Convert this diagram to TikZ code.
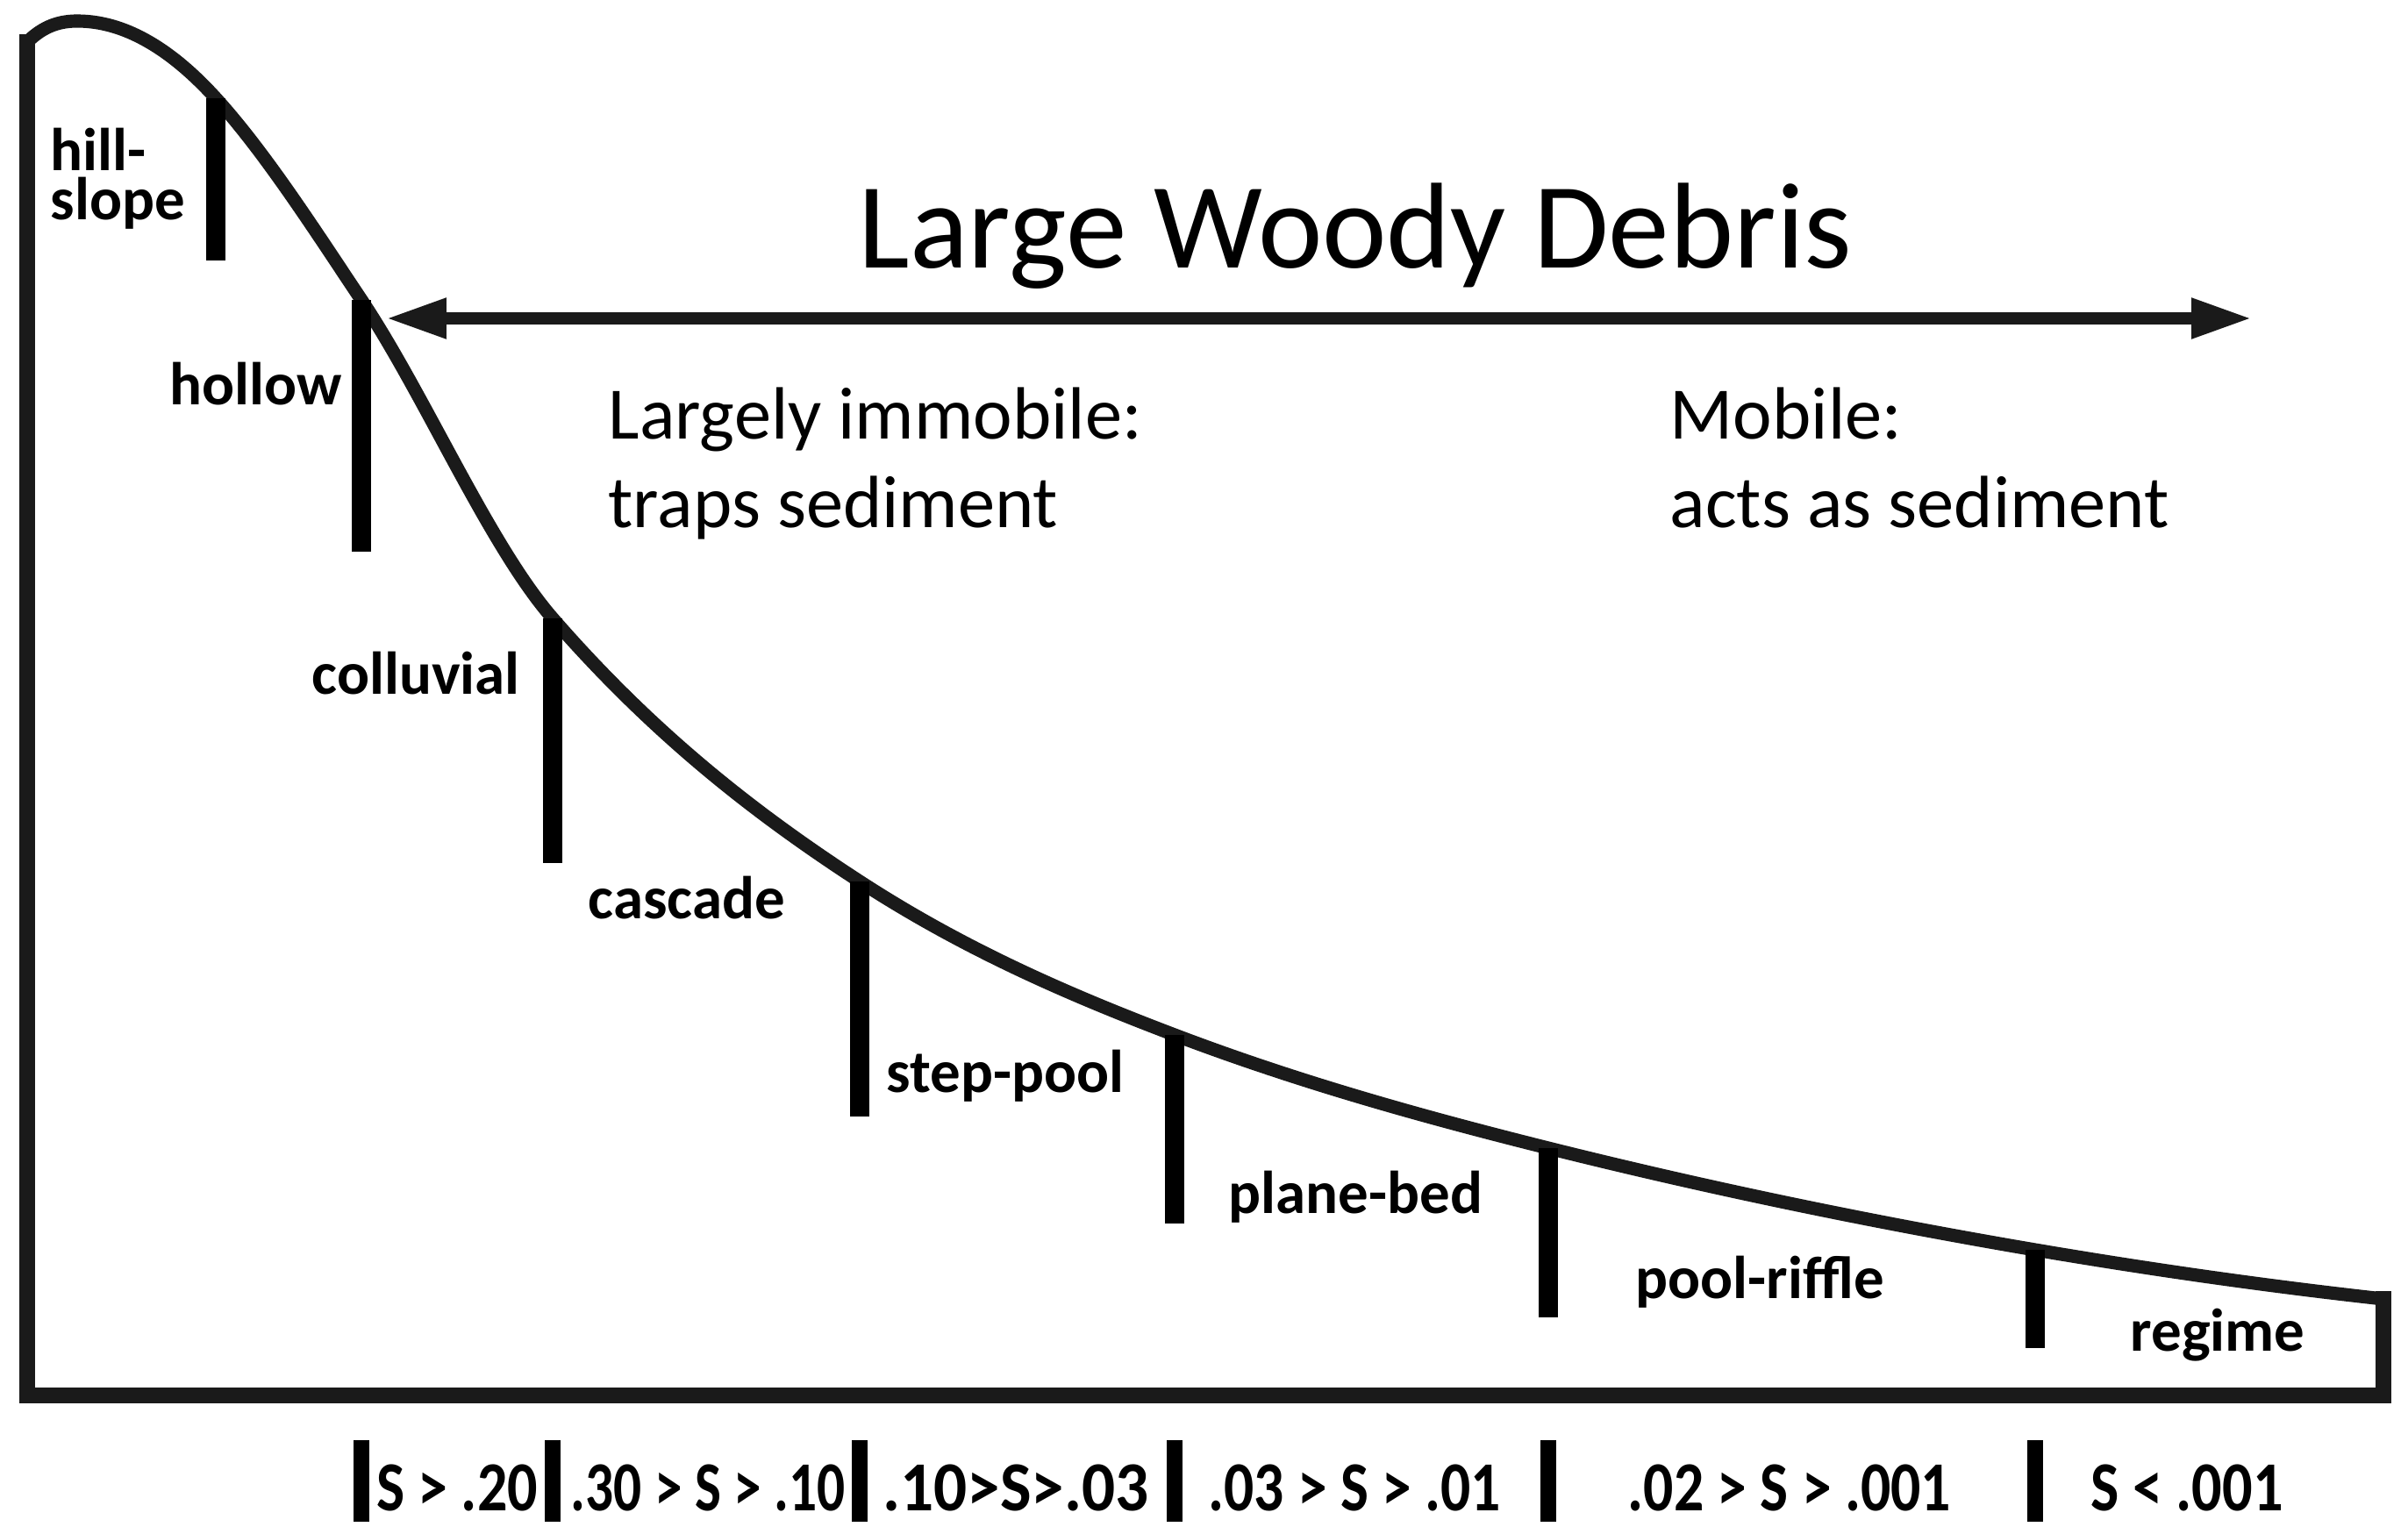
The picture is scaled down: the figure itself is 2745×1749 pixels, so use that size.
\documentclass[tikz,border=0pt]{standalone}
\usepackage{fontspec}
\usepackage{graphicx}
\setmainfont{Carlito}
\usetikzlibrary{arrows.meta}
\newcommand{\slopelab}[2]{\resizebox{#1}{\height}{#2}}
\definecolor{ink}{HTML}{1A1A1A}
\tikzset{
  frame/.style={draw=ink, line width=5pt, line join=miter, line cap=rect},
  curveline/.style={draw=ink, line width=4.3pt, line join=round},
  divider/.style={draw=black, line width=6.5pt},
  lowdivider/.style={draw=black, line width=5pt},
  zonelab/.style={anchor=base west, inner sep=0pt, font=\fontsize{19.6}{16}\selectfont\bfseries},
  slopetxt/.style={anchor=base, inner sep=0pt, font=\fontsize{22.8}{26}\selectfont\bfseries},
  roletxt/.style={anchor=base west, inner sep=0pt, align=left, font=\fontsize{24}{28.6}\selectfont},
  bigarrow/.style={draw=ink, line width=4pt,
    {Triangle[length=19.6pt,width=12.2pt]}-{Triangle[length=19.6pt,width=12.2pt]}}
}
\begin{document}
\begin{tikzpicture}[x=0.01cm, y=-0.01cm]
\useasboundingbox (0,0) rectangle (2745,1749);
\fill[white] (0,0) rectangle (2745,1749);

% curve points at dividers
\coordinate (wl) at (31,48);
\coordinate (pk) at (88,24);
\coordinate (t1) at (246,112);
\coordinate (t2) at (412,342);
\coordinate (t3) at (630,705);
\coordinate (t4) at (980,1005);
\coordinate (t5) at (1339,1180);
\coordinate (t6) at (1765,1309);
\coordinate (t7) at (2320,1425);
\coordinate (wr) at (2717,1481);

% frame
\draw[frame] (wl) -- (31,1591) -- (2717,1591) -- (wr);

% profile curve
\draw[curveline] (wl)
  .. controls (50,29) and (69,24) .. (pk)
  .. controls (140.7,24) and (193.3,54) .. (t1)
  .. controls (301.3,172.9) and (356.7,259) .. (t2)
  .. controls (484.7,451) and (557.3,621.4) .. (t3)
  .. controls (746.7,839.2) and (863.3,929.2) .. (t4)
  .. controls (1099.7,1082.8) and (1219.3,1134.5) .. (t5)
  .. controls (1481,1234) and (1623,1273.5) .. (t6)
  .. controls (1950,1355.3) and (2135,1393.5) .. (t7)
  .. controls (2452.3,1447.5) and (2584.7,1466.4) .. (wr);

% dividers on the curve
\foreach \n/\x/\yt/\yb in {1/246/112/297, 2/412/342/629, 3/630/705/984, 4/980/1005/1273,
  5/1339/1180/1395, 6/1765/1309/1502, 7/2320/1425/1537}{
  \coordinate (d\n a) at (\x,\yt);
  \coordinate (d\n b) at (\x,\yb);
  \draw[divider] (d\n a) -- (d\n b);
}

% lower dividers
\foreach \n/\x in {1/412, 2/630, 3/980, 4/1339, 5/1765, 6/2320}{
  \coordinate (b\n a) at (\x,1642);
  \coordinate (b\n b) at (\x,1735);
  \draw[lowdivider] (b\n a) -- (b\n b);
}

% arrow
\coordinate (arrL) at (440,363);
\coordinate (arrR) at (2567,363);
\draw[bigarrow] (arrL) -- (arrR);

% title
\node[anchor=base, inner sep=0pt, font=\fontsize{39.6}{46}\selectfont] (title) at (1545,306) {Large Woody Debris};

% (multi-line nodes: base = baseline of last line)
\node[roletxt] (immob) at (693,601) {Largely immobile:\\traps sediment};
\node[roletxt] (mob) at (1903,601) {Mobile:\\acts as sediment};

% zone labels
\node[zonelab, align=left] (hill) at (57,251) {hill-\\slope};
\node[zonelab] (hollow) at (193,462) {hollow};
\node[zonelab] (colluvial) at (355,791) {colluvial};
\node[zonelab] (cascade) at (670,1047) {cascade};
\node[zonelab] (steppool) at (1010,1245) {step-pool};
\node[zonelab] (planebed) at (1400,1383) {plane-bed};
\node[zonelab] (poolriffle) at (1864,1480) {pool-riffle};
\node[zonelab] (regime) at (2428,1540) {regime};

% slope ranges
\node[slopetxt] (s1) at (521,1722) {\slopelab{52.3pt}{S > .20}};
\node[slopetxt] (s2) at (807,1722) {\slopelab{88.8pt}{.30 > S > .10}};
\node[slopetxt] (s3) at (1158,1722) {\slopelab{86.2pt}{.10>S>.03}};
\node[slopetxt] (s4) at (1544,1722) {\slopelab{94.7pt}{.03 > S > .01}};
\node[slopetxt] (s5) at (2040,1722) {\slopelab{104.7pt}{.02 > S > .001}};
\node[slopetxt] (s6) at (2493,1722) {\slopelab{62.3pt}{S < .001}};
\end{tikzpicture}
\end{document}
